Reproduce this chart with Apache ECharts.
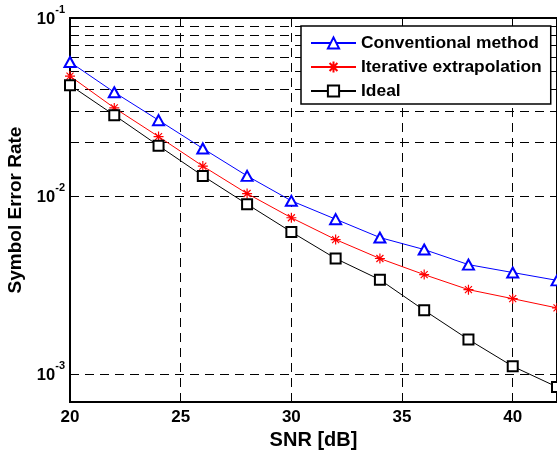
<!DOCTYPE html>
<html>
<head>
<meta charset="utf-8">
<script src="https://cdn.jsdelivr.net/npm/echarts@6/dist/echarts.min.js"></script>
<style>html,body{margin:0;padding:0;background:#fff;}#c{width:557px;height:454px;}</style>
</head>
<body>
<div id="c"></div>
<script>
const snr = [20, 22, 24, 26, 28, 30, 32, 34, 36, 38, 40, 42];
const conventional = [0.0566, 0.0383, 0.0267, 0.01853, 0.0130, 0.00942, 0.00743, 0.00586, 0.00502, 0.00413, 0.00373, 0.00337];
const iterative = [0.0472, 0.0313, 0.0216, 0.01475, 0.01035, 0.00757, 0.00571, 0.00447, 0.00363, 0.00299, 0.00266, 0.00236];
const ideal = [0.0420, 0.0285, 0.0192, 0.0130, 0.00902, 0.00630, 0.00447, 0.00340, 0.00229, 0.00157, 0.00111, 0.00085];
const minorGrid = [8e-4, 9e-4, 2e-3, 3e-3, 4e-3, 5e-3, 6e-3, 7e-3, 8e-3, 9e-3, 2e-2, 3e-2, 4e-2, 5e-2, 6e-2, 7e-2, 8e-2, 9e-2];
const seriesNames = ['Conventional method', 'Iterative extrapolation', 'Ideal'];

const FONT = 'Liberation Sans, Arial, sans-serif';
const asterisk = 'path://M-5,0L5,0M0,-5L0,5M-3.5,-3.5L3.5,3.5M-3.5,3.5L3.5,-3.5';
const pair = arr => snr.map((x, i) => [x, arr[i]]);
const gridDash = [9, 6];

const chart = echarts.init(document.getElementById('c'));
chart.setOption({
  animation: false,
  backgroundColor: '#fff',
  grid: { left: 70, right: 0, top: 18, bottom: 52, outerBoundsMode: 'none', containLabel: false, show: true, borderColor: '#000', borderWidth: 2 },
  legend: {
    data: seriesNames,
    left: 301, top: 26,
    orient: 'vertical',
    z: 10,
    backgroundColor: '#fff',
    borderColor: '#000',
    borderWidth: 1.5,
    borderRadius: 0,
    padding: [7, 9, 3, 9],
    itemWidth: 45, itemHeight: 14, itemGap: 4,
    textStyle: { fontFamily: FONT, fontWeight: 'bold', fontSize: 17.4, color: '#000', lineHeight: 20 }
  },
  xAxis: {
    type: 'value', min: 20, max: 42, interval: 5,
    name: 'SNR [dB]', nameLocation: 'middle', nameGap: 24,
    nameTextStyle: { fontFamily: FONT, fontWeight: 'bold', fontSize: 20, color: '#000' },
    axisLine: { lineStyle: { color: '#000', width: 2 } },
    axisTick: { show: false },
    axisLabel: { fontFamily: FONT, fontWeight: 'bold', fontSize: 17, color: '#000', margin: 7, showMaxLabel: false },
    splitLine: { show: true, lineStyle: { color: '#000', type: gridDash, width: 1 } }
  },
  yAxis: {
    type: 'log', logBase: 10, min: 7e-4, max: 0.1,
    name: 'Symbol Error Rate', nameLocation: 'middle', nameGap: 45,
    nameTextStyle: { fontFamily: FONT, fontWeight: 'bold', fontSize: 19, color: '#000' },
    axisLine: { lineStyle: { color: '#000', width: 2 } },
    axisTick: { show: false },
    axisLabel: {
      showMinLabel: false, margin: 5,
      formatter: v => '{b|10}{s|' + Math.round(Math.log10(v)) + '}',
      rich: {
        b: { fontFamily: FONT, fontWeight: 'bold', fontSize: 16.5, color: '#000', padding: [6, 0, 4, 0] },
        s: { fontFamily: FONT, fontWeight: 'bold', fontSize: 11, color: '#000', verticalAlign: 'top', padding: [0, 0, 10, 0] }
      }
    },
    splitLine: { show: true, lineStyle: { color: '#000', type: gridDash, width: 1 } }
  },
  series: [
    {
      name: 'grid', type: 'line', data: [], z: 1, silent: true,
      markLine: {
        silent: true, symbol: 'none', animation: false, z: 1,
        label: { show: false },
        lineStyle: { color: '#000', type: gridDash, width: 1 },
        data: minorGrid.map(v => ({ yAxis: v }))
      }
    },
    {
      name: seriesNames[0], type: 'line', data: pair(conventional), z: 3,
      symbol: 'emptyTriangle', symbolSize: [11, 10],
      lineStyle: { color: '#0000ff', width: 1 },
      itemStyle: { color: '#0000ff', borderColor: '#0000ff', borderWidth: 1 }
    },
    {
      name: seriesNames[1], type: 'line', data: pair(iterative), z: 3,
      symbol: asterisk, symbolSize: 10,
      lineStyle: { color: '#ff0000', width: 1 },
      itemStyle: { color: 'none', borderColor: '#ff0000', borderWidth: 1.2 }
    },
    {
      name: seriesNames[2], type: 'line', data: pair(ideal), z: 3,
      symbol: 'emptyRect', symbolSize: 10,
      lineStyle: { color: '#000', width: 1 },
      itemStyle: { color: '#000', borderColor: '#000', borderWidth: 1 }
    }
  ]
});
</script>
</body>
</html>
